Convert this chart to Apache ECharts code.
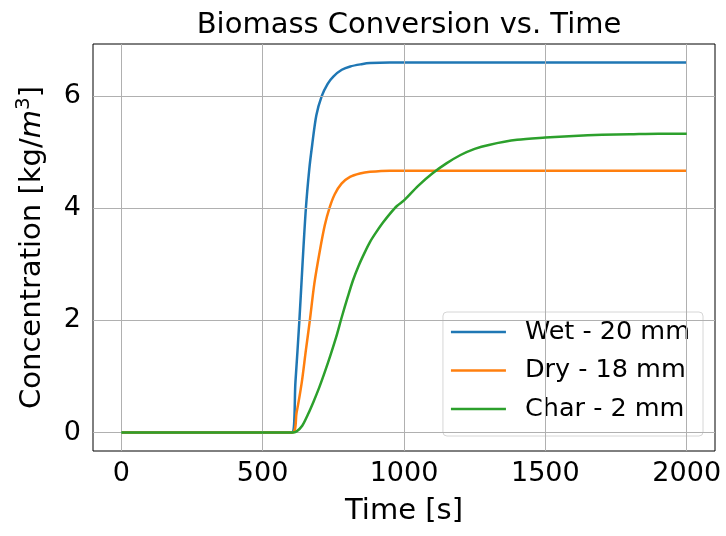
<!DOCTYPE html>
<html><head><meta charset="utf-8">
<script src="https://cdn.jsdelivr.net/npm/echarts@6/dist/echarts.min.js"></script>
<style>html,body{margin:0;padding:0;background:#fff}#c{width:726px;height:536px}</style>
</head><body><div id="c"></div>
<script>
const seriesNames = ['Wet - 20 mm', 'Dry - 18 mm', 'Char - 2 mm'];
const xTicks = [0, 500, 1000, 1500, 2000];
const yTicks = [0, 2, 4, 6];

const wetT = [0, 603, 616, 630, 641, 653, 665, 675, 690, 709, 730, 750, 780, 810, 850, 880, 950, 1500, 2000];
const wetC = [0, 0, 0.9, 2.0, 3.0, 4.0, 4.7, 5.12, 5.66, 6.0, 6.22, 6.35, 6.47, 6.53, 6.57, 6.59, 6.6, 6.6, 6.6];

const dryT = [0, 605, 620, 638, 653, 667, 683, 703, 720, 736, 755, 779, 809, 844, 880, 950, 1500, 2000];
const dryC = [0, 0, 0.35, 0.88, 1.47, 2.0, 2.66, 3.26, 3.7, 4.0, 4.25, 4.44, 4.56, 4.62, 4.65, 4.67, 4.67, 4.67];

const charT = [0, 605, 620, 640, 660, 680, 700, 720, 740, 760, 780, 800, 820, 840, 860, 880, 900, 925, 950, 975, 1000, 1050, 1100, 1150, 1200, 1250, 1300, 1400, 1500, 1600, 1700, 1800, 1900, 2000];
const charC = [0, 0, 0.02, 0.12, 0.32, 0.55, 0.8, 1.08, 1.38, 1.7, 2.06, 2.4, 2.72, 2.98, 3.2, 3.4, 3.56, 3.74, 3.9, 4.04, 4.14, 4.4, 4.62, 4.8, 4.95, 5.06, 5.13, 5.22, 5.26, 5.29, 5.31, 5.32, 5.33, 5.33];

const xMin = -100, xMax = 2100, yMin = -0.33, yMax = 6.93;
const colors = ['#1f77b4', '#ff7f0e', '#2ca02c'];
const FONT = 'DejaVu Sans';

function pairs(t, c) { return t.map((v, i) => [v, c[i]]); }

const chart = echarts.init(document.getElementById('c'), null, {renderer: 'canvas'});
const gridLineData = xTicks.map(v => ({xAxis: v})).concat(yTicks.map(v => ({yAxis: v})));

chart.setOption({
  animation: false,
  backgroundColor: '#fff',
  title: {
    text: 'Biomass Conversion vs. Time',
    left: 404, textAlign: 'center', top: 6,
    textStyle: {fontFamily: FONT, fontSize: 29, fontWeight: 'normal', color: '#000'}
  },
  grid: {left: 93, right: 11, top: 44, bottom: 85, show: true, borderColor: '#000', borderWidth: 1, backgroundColor: 'transparent'},
  legend: {
    data: seriesNames,
    orient: 'vertical',
    right: 23, bottom: 100,
    icon: 'rect', itemWidth: 55, itemHeight: 2.5,
    itemGap: 12.5,
    padding: [7, 13, 14, 8],
    backgroundColor: 'rgba(255,255,255,0.8)',
    borderColor: '#d6d6d6', borderWidth: 1, borderRadius: 4,
    textStyle: {fontFamily: FONT, fontSize: 25.5, color: '#000', lineHeight: 26, padding: [0, 0, 0, 14]}
  },
  xAxis: {
    type: 'value', min: xMin, max: xMax,
    name: 'Time [s]', nameLocation: 'middle', nameGap: 46,
    nameTextStyle: {fontFamily: FONT, fontSize: 29, color: '#000'},
    axisLine: {show: false},
    axisTick: {show: true, inside: false, length: 5, customValues: xTicks, lineStyle: {color: '#000'}},
    axisLabel: {customValues: xTicks, formatter: v => String(v), fontFamily: FONT, fontSize: 27, color: '#000', margin: 9},
    splitLine: {show: false}
  },
  yAxis: {
    type: 'value', min: yMin, max: yMax,
    name: '{a|Concentration [kg/}{i|m}{s|3}{a|]}', nameLocation: 'middle', nameGap: 43,
    nameTextStyle: {
      fontFamily: FONT, fontSize: 29, color: '#000',
      rich: {
        a: {fontFamily: FONT, fontSize: 29, color: '#000'},
        i: {fontFamily: FONT, fontSize: 29, fontStyle: 'italic', color: '#000'},
        s: {fontFamily: FONT, fontSize: 20, color: '#000', padding: [0, 0, 16, 0]}
      }
    },
    axisLine: {show: false},
    axisTick: {show: true, inside: false, length: 5, customValues: yTicks, lineStyle: {color: '#000'}},
    axisLabel: {customValues: yTicks, fontFamily: FONT, fontSize: 27, color: '#000', margin: 12},
    splitLine: {show: false}
  },
  series: [
    {
      name: '__grid', type: 'line', data: [], z: 1, silent: true,
      markLine: {
        silent: true, symbol: 'none', label: {show: false},
        lineStyle: {color: '#b0b0b0', width: 1, type: 'solid'},
        data: gridLineData
      }
    },
    {name: seriesNames[0], type: 'line', data: pairs(wetT, wetC), smooth: 0.3, showSymbol: false, symbol: 'none', z: 3,
     color: colors[0], lineStyle: {width: 2.5, color: colors[0]}},
    {name: seriesNames[1], type: 'line', data: pairs(dryT, dryC), smooth: 0.3, showSymbol: false, symbol: 'none', z: 4,
     color: colors[1], lineStyle: {width: 2.5, color: colors[1]}},
    {name: seriesNames[2], type: 'line', data: pairs(charT, charC), smooth: 0.3, showSymbol: false, symbol: 'none', z: 5,
     color: colors[2], lineStyle: {width: 2.5, color: colors[2]}}
  ]
});
</script>
</body></html>
